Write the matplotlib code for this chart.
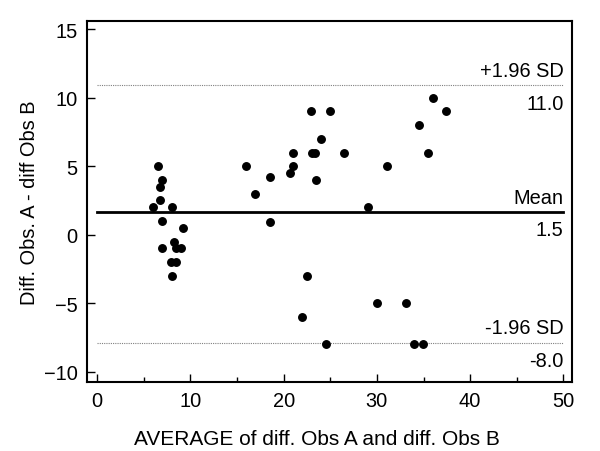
import matplotlib
matplotlib.use("Agg")
import matplotlib.pyplot as plt
from matplotlib.ticker import MultipleLocator

plt.rcParams['font.family'] = ['Liberation Sans', 'DejaVu Sans']

# averages (x) and differences (y)
avg = [6.5, 7.0, 6.7, 6.7, 6.0, 8.0, 7.0, 9.2, 8.2, 7.0, 8.5, 9.0, 7.9, 8.5, 8.0,
       22.9, 25.0, 24.0, 21.0, 23.0, 23.4, 26.5, 16.0, 21.0, 20.7, 18.5, 23.5, 16.9,
       29.0, 18.5,
       36.0, 37.4, 34.5, 35.5, 31.1,
       22.5, 22.0, 30.0, 33.1, 24.5, 34.0, 34.9]
diff = [5, 4, 3.5, 2.5, 2, 2, 1, 0.5, -0.5, -1, -1, -1, -2, -2, -3,
        9, 9, 7, 6, 6, 6, 6, 5, 5, 4.5, 4.2, 4, 3,
        2, 0.9,
        10, 9, 8, 6, 5,
        -3, -6, -5, -5, -8, -8, -8]

mean_line = 1.65
upper_line = 10.9
lower_line = -7.9
line_labels = [("+1.96 SD", "11.0"), ("Mean", "1.5"), ("-1.96 SD", "-8.0")]

fs = 14.4

fig = plt.figure(figsize=(6, 4.52), dpi=100)
ax = fig.add_axes([0.1455, 0.1533, 0.8075, 0.797])

ax.plot(avg, diff, 'o', color='black', ms=5.4, zorder=3)

ax.plot([0, 50], [mean_line, mean_line], color='black', lw=2)
ax.plot([0, 50], [upper_line, upper_line], color='#808080', lw=0.8, ls=(0, (1, 1)))
ax.plot([0, 50], [lower_line, lower_line], color='#808080', lw=0.8, ls=(0, (1, 1)))

for yv, (top, bottom) in zip([upper_line, mean_line, lower_line], line_labels):
    ax.annotate(top, (50, yv), xytext=(0, 4), textcoords='offset points',
                ha='right', va='bottom', fontsize=fs)
    ax.annotate(bottom, (50, yv), xytext=(0, -6), textcoords='offset points',
                ha='right', va='top', fontsize=fs)

ax.set_xlim(-1.06, 50.9)
ax.set_ylim(-10.73, 15.57)
ax.xaxis.set_major_locator(MultipleLocator(10))
ax.xaxis.set_minor_locator(MultipleLocator(5))
ax.yaxis.set_major_locator(MultipleLocator(5))

ax.tick_params(which='major', direction='in', length=6, width=1, labelsize=fs, pad=7)
ax.tick_params(which='minor', direction='in', length=3.5, width=1)
for s in ax.spines.values():
    s.set_linewidth(1.5)

ax.set_xlabel("AVERAGE of diff. Obs A and diff. Obs B", fontsize=15, va='center')
ax.xaxis.set_label_coords(0.475, -0.159)
ax.set_ylabel("Diff. Obs. A - diff Obs B", fontsize=fs, va='center')
ax.yaxis.set_label_coords(-0.12, 0.5)

fig.savefig("out.png", dpi=100)
